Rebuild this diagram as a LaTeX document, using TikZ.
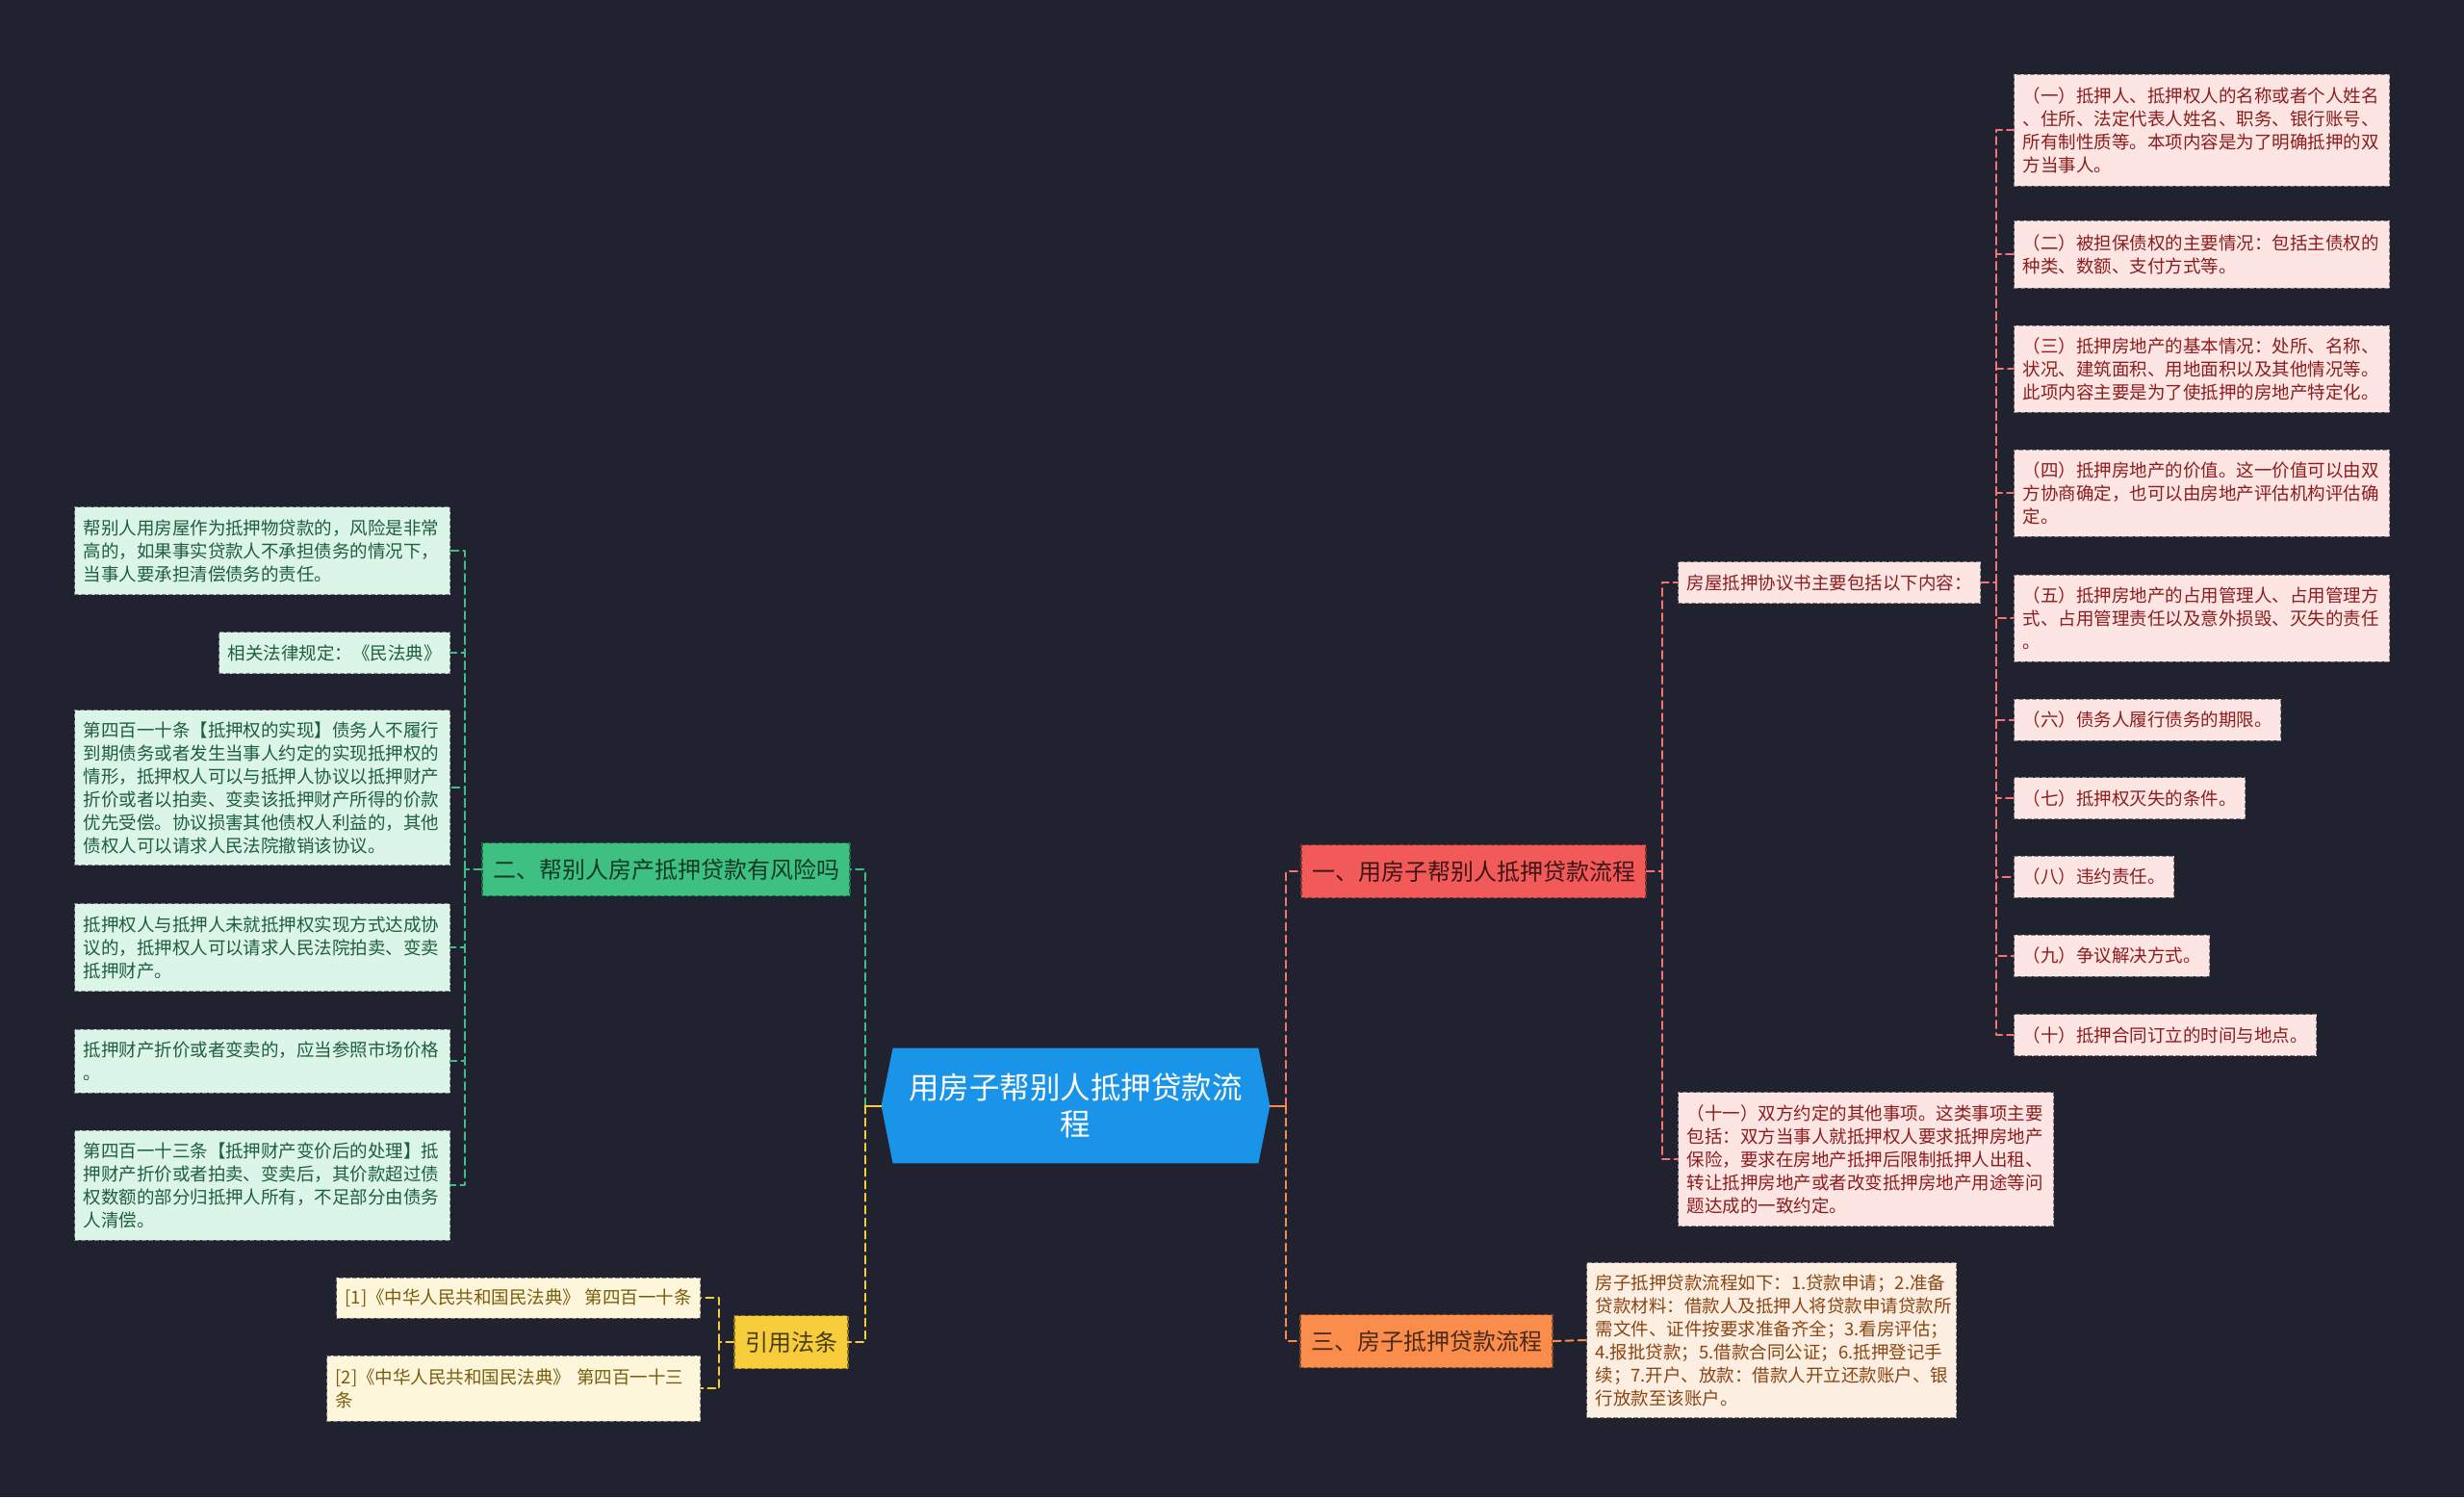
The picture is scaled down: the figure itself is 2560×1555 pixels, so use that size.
\documentclass[tikz,border=0pt]{standalone}
\usepackage{fontspec}
\setmainfont{Noto Sans CJK SC}
\usetikzlibrary{backgrounds}

\definecolor{bgdark}{HTML}{20232F}
\definecolor{rootblue}{HTML}{1A94E8}
\definecolor{onered}{HTML}{F25A5A}
\definecolor{threeorange}{HTML}{FA8C4C}
\definecolor{twogreen}{HTML}{3FC083}
\definecolor{citeyellow}{HTML}{F8CD3C}
\definecolor{pinkfill}{HTML}{FDE5E3}
\definecolor{pinktext}{HTML}{8C1D1D}
\definecolor{peachfill}{HTML}{FDEEE2}
\definecolor{peachtext}{HTML}{8A4513}
\definecolor{greenfill}{HTML}{DCF5E9}
\definecolor{greentext}{HTML}{1F5E3F}
\definecolor{yellowfill}{HTML}{FDF6DA}
\definecolor{yellowtext}{HTML}{7A5C0E}

\begin{document}
\begin{tikzpicture}[x=0.5pt,y=-0.5pt,line cap=round,line join=round,
    leaf/.style={rectangle,draw=black!50,dash pattern=on 2pt off 1.5pt,line width=0.5pt,
      inner xsep=4.5pt,inner ysep=3pt,align=left,font=\fontsize{9.25}{12}\selectfont},
    wide/.style={text width=186pt},
    pinkbox/.style={leaf,fill=pinkfill,text=pinktext},
    greenbox/.style={leaf,fill=greenfill,text=greentext},
    yellowbox/.style={leaf,fill=yellowfill,text=yellowtext},
    peachbox/.style={leaf,fill=peachfill,text=peachtext},
    branch/.style={rectangle,dash pattern=on 2pt off 1.5pt,line width=0.6pt,inner xsep=5.5pt,
      minimum height=27.5pt,font=\fontsize{12}{14}\selectfont},
    link/.style={line width=1pt,dash pattern=on 4pt off 2.5pt},
    stub/.style={line width=1pt}]

  \begin{scope}[on background layer]
    \fill[bgdark] (0,0) rectangle (2560,1555);
  \end{scope}
  \useasboundingbox (0,0) rectangle (2560,1555);

  % centre
  \node[minimum width=201.5pt,minimum height=59.5pt,align=center,text=white,
    font=\fontsize{15.75}{19}\selectfont] (root) at (1117.5,1148.5)
    {用房子帮别人抵押贷款流\\程};
  \begin{scope}[on background layer]
    \fill[rootblue] (root.west) -- ([xshift=6pt]root.north west) -- ([xshift=-6pt]root.north east)
      -- (root.east) -- ([xshift=-6pt]root.south east) -- ([xshift=6pt]root.south west) -- cycle;
  \end{scope}

  % branches
  \node[branch,fill=onered,draw=onered!55!black,text=onered!25!black] (one) at (1531,905)
    {一、用房子帮别人抵押贷款流程};
  \node[branch,fill=threeorange,draw=threeorange!55!black,text=threeorange!30!black] (three) at (1482,1393)
    {三、房子抵押贷款流程};
  \node[branch,fill=twogreen,draw=twogreen!55!black,text=twogreen!30!black] (two) at (692,903)
    {二、帮别人房产抵押贷款有风险吗};
  \node[branch,fill=citeyellow,draw=citeyellow!55!black,text=citeyellow!30!black] (cite) at (822,1394)
    {引用法条};

  % right side
  \node[pinkbox,anchor=west,minimum height=21.5pt] (house) at (1743,605)
    {房屋抵押协议书主要包括以下内容：};
  \node[pinkbox,wide,anchor=west,minimum height=69.5pt] (p11) at (1743,1204)
    {（十一）双方约定的其他事项。这类事项主要\\包括：双方当事人就抵押权人要求抵押房地产\\保险，要求在房地产抵押后限制抵押人出租、\\转让抵押房地产或者改变抵押房地产用途等问\\题达成的一致约定。};

  \node[pinkbox,wide,anchor=west,minimum height=58pt] (p1) at (2092,135)
    {（一）抵押人、抵押权人的名称或者个人姓名\\、住所、法定代表人姓名、职务、银行账号、\\所有制性质等。本项内容是为了明确抵押的双\\方当事人。};
  \node[pinkbox,wide,anchor=west,minimum height=35pt] (p2) at (2092,264)
    {（二）被担保债权的主要情况：包括主债权的\\种类、数额、支付方式等。};
  \node[pinkbox,wide,anchor=west,minimum height=45pt] (p3) at (2092,383)
    {（三）抵押房地产的基本情况：处所、名称、\\状况、建筑面积、用地面积以及其他情况等。\\此项内容主要是为了使抵押的房地产特定化。};
  \node[pinkbox,wide,anchor=west,minimum height=45pt] (p4) at (2092,512)
    {（四）抵押房地产的价值。这一价值可以由双\\方协商确定，也可以由房地产评估机构评估确\\定。};
  \node[pinkbox,wide,anchor=west,minimum height=45pt] (p5) at (2092,642)
    {（五）抵押房地产的占用管理人、占用管理方\\式、占用管理责任以及意外损毁、灭失的责任\\。};
  \node[pinkbox,anchor=west,minimum height=21.5pt] (p6) at (2092,747.5) {（六）债务人履行债务的期限。};
  \node[pinkbox,anchor=west,minimum height=21.5pt] (p7) at (2092,829) {（七）抵押权灭失的条件。};
  \node[pinkbox,anchor=west,minimum height=21.5pt] (p8) at (2092,910.5) {（八）违约责任。};
  \node[pinkbox,anchor=west,minimum height=21.5pt] (p9) at (2092,992.5) {（九）争议解决方式。};
  \node[pinkbox,anchor=west,minimum height=21.5pt] (p10) at (2092,1075) {（十）抵押合同订立的时间与地点。};

  \node[peachbox,text width=183pt,anchor=west,minimum height=80.5pt] (steps) at (1648,1392)
    {房子抵押贷款流程如下：1.贷款申请；2.准备\\贷款材料：借款人及抵押人将贷款申请贷款所\\需文件、证件按要求准备齐全；3.看房评估；\\4.报批贷款；5.借款合同公证；6.抵押登记手\\续；7.开户、放款：借款人开立还款账户、银\\行放款至该账户。};

  % left side
  \node[greenbox,wide,anchor=east,minimum height=45.5pt] (g1) at (468,572)
    {帮别人用房屋作为抵押物贷款的，风险是非常\\高的，如果事实贷款人不承担债务的情况下，\\当事人要承担清偿债务的责任。};
  \node[greenbox,anchor=east,minimum height=21.5pt] (g2) at (468,678)
    {相关法律规定：《民法典》};
  \node[greenbox,wide,anchor=east,minimum height=80.5pt] (g3) at (468,818)
    {第四百一十条【抵押权的实现】债务人不履行\\到期债务或者发生当事人约定的实现抵押权的\\情形，抵押权人可以与抵押人协议以抵押财产\\折价或者以拍卖、变卖该抵押财产所得的价款\\优先受偿。协议损害其他债权人利益的，其他\\债权人可以请求人民法院撤销该协议。};
  \node[greenbox,wide,anchor=east,minimum height=45.5pt] (g4) at (468,984)
    {抵押权人与抵押人未就抵押权实现方式达成协\\议的，抵押权人可以请求人民法院拍卖、变卖\\抵押财产。};
  \node[greenbox,wide,anchor=east,minimum height=33pt] (g5) at (468,1102)
    {抵押财产折价或者变卖的，应当参照市场价格\\。};
  \node[greenbox,wide,anchor=east,minimum height=57pt] (g6) at (468,1231)
    {第四百一十三条【抵押财产变价后的处理】抵\\押财产折价或者拍卖、变卖后，其价款超过债\\权数额的部分归抵押人所有，不足部分由债务\\人清偿。};

  \node[yellowbox,anchor=east,minimum height=21pt] (y1) at (728,1348)
    {[1]《中华人民共和国民法典》 第四百一十条};
  \node[yellowbox,text width=185pt,anchor=east,minimum height=34pt] (y2) at (728,1442)
    {[2]《中华人民共和国民法典》 第四百一十三\\条};

  % connectors
  \draw[stub,citeyellow] (root.west) -- ++(-17,0) coordinate (lj);
  \draw[stub,threeorange] (root.east) -- ++(17,0) coordinate (rj);
  \draw[link,twogreen] (lj) |- (two.east);
  \draw[link,citeyellow] (lj) |- (cite.east);
  \draw[link,onered!85!white] (rj) |- (one.west);
  \draw[link,threeorange] (rj) |- (three.west);

  \draw[link,onered!85!white] (one.east) -- ++(16,0) coordinate (oj);
  \draw[link,onered!85!white] (oj) |- (house.west) (oj) |- (p11.west);
  \draw[link,onered!85!white] (house.east) -- ++(16,0) coordinate (hj);
  \foreach \n in {1,...,10}
    \draw[link,onered!85!white] (hj) |- (p\n.west);

  \draw[link,threeorange] (three.east) -- (steps.west);

  \draw[link,twogreen] (two.west) -- ++(-17,0) coordinate (tj);
  \foreach \n in {1,...,6}
    \draw[link,twogreen] (tj) |- (g\n.east);

  \draw[link,citeyellow] (cite.west) -- ++(-15,0) coordinate (cj);
  \foreach \n in {1,2}
    \draw[link,citeyellow] (cj) |- (y\n.east);
\end{tikzpicture}
\end{document}
